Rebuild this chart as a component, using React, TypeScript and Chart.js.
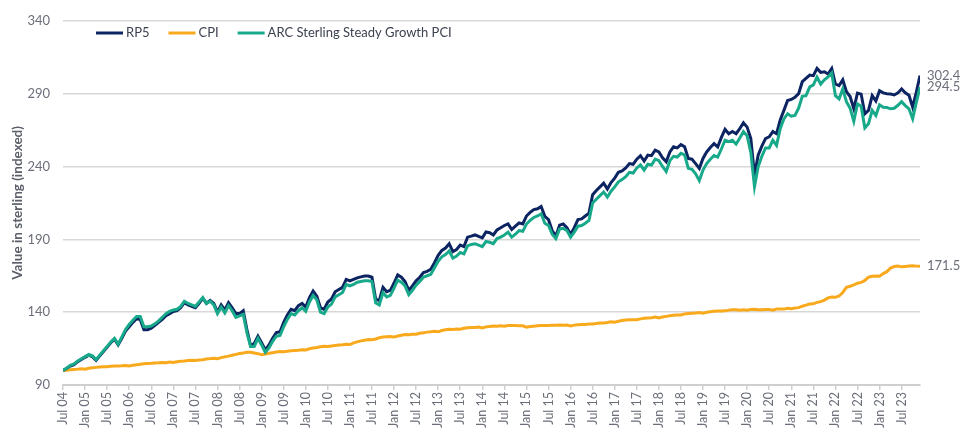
import React, { useEffect, useRef } from 'react';
import { Chart, registerables } from 'chart.js';

Chart.register(...registerables);

const MONTH_NAMES = ['Jan', 'Feb', 'Mar', 'Apr', 'May', 'Jun', 'Jul', 'Aug', 'Sep', 'Oct', 'Nov', 'Dec'];

const rp5 = [
  100, 101.5, 103, 104, 106, 107.5, 109, 110.4, 109.5, 107, 110, 113,
  116, 119, 121.5, 117.5, 122, 127, 130, 133, 135.5, 135, 128, 128,
  129, 131, 133, 135, 137.5, 139, 140.5, 141, 143, 146.5, 145, 144,
  143, 146, 149.5, 146, 148, 146, 140, 145, 141.5, 146.5, 143, 139,
  139, 141, 128, 117, 118.5, 123.5, 119, 114, 117.5, 122, 126, 126.5,
  133, 138, 142, 141, 144.5, 146, 143.5, 150, 154.5, 151, 143, 142,
  147, 149, 154, 155.5, 157, 162.5, 161.5, 162.5, 163.5, 164.2, 164.8, 164.8,
  164, 149, 148, 157, 154, 155, 160, 165.5, 164, 161, 155, 158,
  161.5, 164, 167.2, 168, 169.5, 174, 179, 182.4, 184, 187, 181.5, 183,
  186, 185, 191.5, 192.2, 193, 192, 191, 195, 194.5, 193, 196.5, 198,
  199.5, 200.6, 196.7, 199, 201.3, 200.6, 206, 208.5, 210.4, 211, 212.6, 205.8,
  203.5, 196, 192.2, 199.7, 200.5, 198, 193.3, 198, 203.5, 204, 206, 208,
  220.6, 223.5, 226, 228.5, 224.5, 229, 232, 236, 237, 239, 242, 241.5,
  245, 247.4, 243.7, 247.8, 247.4, 251.2, 250, 246, 243.3, 250, 253.5, 252.8,
  255, 253.5, 245.5, 245, 242, 238.7, 245.5, 250, 253, 255.7, 253.4, 260,
  265.5, 262.5, 264, 262.5, 266, 270, 267, 259.2, 234.2, 247.8, 254, 259.2,
  260.4, 264, 262.5, 272, 278.5, 285.3, 286, 287.5, 290, 298.2, 300.5, 302.7,
  302.3, 307.3, 304.6, 305, 303.5, 307.3, 296.6, 295.5, 299.5, 291.3, 288, 279.6,
  290.4, 289.7, 276.2, 278.5, 288.7, 285, 292, 290.5, 290, 289.8, 289.1, 290.5,
  293.2, 290.6, 288.9, 280.7, 291, 302.4,
];

const cpi = [
  100, 100.2, 100.5, 100.7, 100.9, 101.2, 100.8, 101.5, 101.8, 102.1, 102.3, 102.5,
  102.6, 102.8, 103, 103.1, 103.2, 103.4, 103.1, 103.6, 103.9, 104.3, 104.6, 104.8,
  104.9, 105.1, 105.2, 105.4, 105.3, 105.7, 105.4, 106, 106.3, 106.5, 106.8, 107,
  106.9, 107.1, 107.3, 107.8, 108.1, 108.4, 108.1, 108.8, 109.3, 109.8, 110.4, 111,
  111.6, 112, 112.5, 112.4, 112, 111.5, 110.8, 111.3, 111.8, 112.2, 112.6, 113,
  112.9, 113.2, 113.5, 113.7, 113.9, 114.2, 114, 114.9, 115.4, 115.8, 116.3, 116.6,
  116.5, 116.8, 117.1, 117.4, 117.6, 117.9, 117.8, 118.9, 119.6, 120.3, 120.7, 121.2,
  121.1, 121.6, 122.4, 122.9, 123.1, 123.3, 122.9, 123.6, 124.1, 124.6, 124.5, 124.9,
  124.8, 125.5, 125.8, 126.3, 126.5, 126.9, 126.5, 127.4, 127.9, 128.3, 128.1, 128.4,
  128.3, 128.9, 129.3, 129.5, 129.5, 129.8, 129.2, 129.9, 130.2, 130.5, 130.3, 130.6,
  130.4, 130.9, 130.8, 130.9, 130.7, 130.6, 129.7, 130.1, 130.4, 130.7, 130.8, 130.9,
  130.8, 131.1, 131.1, 131.2, 131.1, 131.2, 130.6, 131.1, 131.4, 131.5, 131.6, 131.8,
  131.8, 132.2, 132.5, 132.6, 132.9, 133.4, 133.1, 133.8, 134.3, 134.6, 134.8, 134.8,
  134.8, 135.4, 135.8, 136, 136.2, 136.6, 136.1, 136.7, 137.1, 137.5, 137.9, 138,
  138.1, 138.8, 139.1, 139.3, 139.5, 139.8, 139.2, 139.9, 140.3, 140.6, 140.8, 140.8,
  140.9, 141.4, 141.6, 141.7, 141.3, 141.6, 141.3, 141.9, 142, 141.7, 141.6, 141.9,
  141.9, 141.4, 142.1, 142.2, 142.1, 142.6, 142.4, 142.8, 143.1, 144.1, 144.8, 145.6,
  145.7, 146.7, 147.2, 148.3, 149.8, 150.4, 150.2, 151.1, 153.5, 157, 157.8, 158.7,
  159.9, 160.4, 161.8, 164, 164.6, 164.9, 164.7, 166.5, 167.8, 170.3, 171.3, 171.6,
  171.1, 171.4, 171.7, 171.8, 171.6, 171.5,
];

const arc = [
  100, 101.5, 103.5, 104.5, 106.5, 108, 109.5, 111, 110, 107.5, 110.5, 113.5,
  116.5, 119.5, 122, 118, 123, 128, 131.5, 134.5, 137, 137, 130, 130,
  130.5, 132, 134, 136.5, 139, 140.5, 141.5, 142, 144, 147.5, 146, 145,
  144, 147, 150, 146, 147.5, 145, 139, 143.5, 139.5, 144.5, 141, 136.5,
  137.5, 138.5, 126, 116.5, 116.5, 122, 117.5, 112.5, 115.5, 120, 123.5, 124,
  130, 135, 139, 138, 141, 143, 140.5, 147, 151.5, 148.5, 140, 139,
  143.5, 145.5, 150.5, 152, 153.5, 159, 158, 159, 160.5, 161, 161.5, 161.5,
  161, 146.5, 145, 153.5, 150.5, 151.5, 156.5, 162, 160.5, 158, 152, 155,
  158.5, 161, 164, 165, 166, 170.5, 175, 178, 179.5, 182, 177, 178.5,
  181, 180, 185.5, 186.5, 187, 186, 185, 188.5, 188, 187, 190.5, 191.5,
  193, 195, 191.5, 193.5, 196, 195.5, 200.5, 203, 205, 206, 207.5, 201,
  199.5, 193.5, 190.5, 197, 197.5, 196, 191.5, 195, 199, 199.5, 201, 203,
  215, 217.5, 220, 222.5, 219, 223, 226, 229.5, 231, 233, 236, 235.5,
  239, 241, 237.5, 241.5, 241, 245, 244, 240, 236.5, 244, 247, 246.5,
  249, 248, 238.7, 238, 235, 230.3, 237.5, 242, 245, 247.5, 246.4, 252,
  258, 257, 258, 255.4, 259.5, 264, 261, 249.7, 226.2, 239.8, 247, 252.7,
  252.7, 258, 254.5, 266, 272.7, 276.2, 274.5, 275, 280, 288.2, 288.6, 294.5,
  296, 301.3, 296.6, 299.5, 301.5, 304.2, 288.6, 286.4, 293.2, 284.5, 280, 271,
  283, 281.4, 266.5, 269.4, 278.5, 275, 282.3, 280.7, 280.5, 279.6, 280, 282,
  284.5, 281.8, 279.6, 272.8, 284, 294.5,
];

const monthLabels: string[] = rp5.map((_, i) => {
  const m = 6 + i;
  const year = 2004 + Math.floor(m / 12);
  return MONTH_NAMES[m % 12] + ' ' + String(year % 100).padStart(2, '0');
});

const yTicks = [90, 140, 190, 240, 290, 340];

const NAVY = '#0c2461';
const ORANGE = '#f8a91c';
const TEAL = '#18a98b';
const GRID = '#d7d7d7';
const TEXT = '#6b6f79';
const FONT = 'Lato, "Noto Sans", sans-serif';

const overlayPlugin = {
  id: 'overlay',
  afterDatasetsDraw(chart: any) {
    const ctx: CanvasRenderingContext2D = chart.ctx;
    const area = chart.chartArea;
    const yScale = chart.scales.y;
    ctx.save();
    ctx.font = '13px ' + FONT;
    ctx.textBaseline = 'middle';
    ctx.textAlign = 'left';
    let x = 96;
    const ly = 33;
    chart.data.datasets.forEach((ds: any) => {
      ctx.strokeStyle = ds.borderColor;
      ctx.lineWidth = 3;
      ctx.beginPath();
      ctx.moveTo(x, ly);
      ctx.lineTo(x + 27, ly);
      ctx.stroke();
      ctx.fillStyle = '#3d4250';
      ctx.fillText(ds.label, x + 30, ly);
      x += 30 + ctx.measureText(ds.label).width + 19;
    });
    ctx.fillStyle = TEXT;
    ctx.font = '13px ' + FONT;
    chart.data.datasets.forEach((ds: any) => {
      const last = ds.data[ds.data.length - 1];
      const py = yScale.getPixelForValue(last.y);
      ctx.fillText(last.y.toFixed(1), area.right + 7, py);
    });
    ctx.restore();
  },
};

export default function App() {
  const canvasRef = useRef<HTMLCanvasElement | null>(null);

  useEffect(() => {
    document.body.style.margin = '0';
    const canvas = canvasRef.current;
    if (!canvas) return;
    const toPts = (arr: number[]) => arr.map((v, i) => ({ x: i, y: v }));
    const chart = new Chart(canvas, {
      type: 'line',
      data: {
        datasets: [
          { label: 'RP5', data: toPts(rp5), borderColor: NAVY, backgroundColor: NAVY, borderWidth: 3, pointRadius: 0, tension: 0, order: 1 },
          { label: 'CPI', data: toPts(cpi), borderColor: ORANGE, backgroundColor: ORANGE, borderWidth: 3, pointRadius: 0, tension: 0, order: 2 },
          { label: 'ARC Sterling Steady Growth PCI', data: toPts(arc), borderColor: TEAL, backgroundColor: TEAL, borderWidth: 3, pointRadius: 0, tension: 0, order: 0 },
        ],
      },
      options: {
        responsive: false,
        animation: false,
        maintainAspectRatio: false,
        layout: { padding: { left: 0, right: 41, top: 18, bottom: 0 } },
        plugins: {
          legend: { display: false },
          tooltip: { enabled: false },
        },
        scales: {
          x: {
            type: 'linear',
            min: 0,
            max: rp5.length - 1,
            offset: false,
            afterFit: (scale: any) => { scale.height = 44; },
            border: { display: true, color: '#cfcfcf', width: 2 },
            grid: { drawOnChartArea: false, drawTicks: true, tickLength: 5, color: '#cfcfcf', lineWidth: 1.5 },
            ticks: {
              stepSize: 6,
              includeBounds: false,
              autoSkip: false,
              minRotation: 90,
              maxRotation: 90,
              padding: 2,
              color: TEXT,
              font: { family: FONT, size: 12.5 },
              callback: (v: any) => (Number(v) % 6 === 0 ? monthLabels[Number(v)] : null),
            },
          },
          y: {
            min: yTicks[0],
            max: yTicks[yTicks.length - 1],
            afterFit: (scale: any) => { scale.width = 63; },
            afterBuildTicks: (scale: any) => { scale.ticks = yTicks.map((v) => ({ value: v })); },
            border: { display: false },
            grid: { color: GRID, lineWidth: 1.5, drawTicks: false },
            ticks: {
              padding: 13,
              color: TEXT,
              font: { family: FONT, size: 13 },
            },
            title: {
              display: true,
              text: 'Value in sterling (indexed)',
              color: '#5b5f69',
              font: { family: FONT, size: 13.5, weight: 'bold' },
              padding: { top: 10, bottom: 0 },
            },
          },
        },
      },
      plugins: [overlayPlugin],
    } as any);
    return () => chart.destroy();
  }, []);

  return (
    <div style={{ width: 961, height: 429 }}>
      <canvas ref={canvasRef} width={961} height={429} style={{ display: 'block' }} />
    </div>
  );
}
